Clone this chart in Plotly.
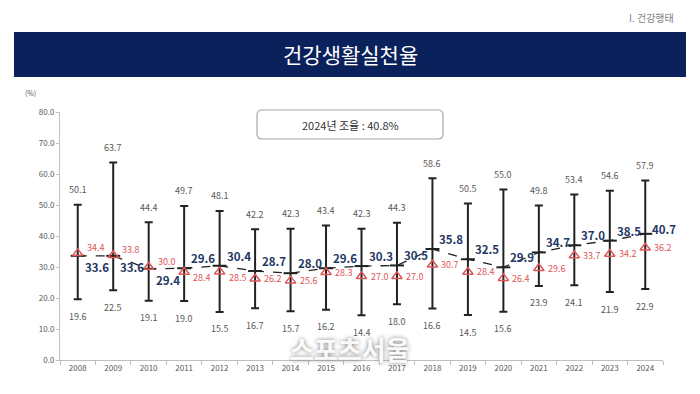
import plotly.graph_objects as go

years = [str(y) for y in range(2008, 2025)]
mean_vals = [33.6, 33.6, 29.4, 29.6, 30.4, 28.7, 28.0, 29.6, 30.3, 30.5, 35.8, 32.5, 29.9, 34.7, 37.0, 38.5, 40.7]
max_vals = [50.1, 63.7, 44.4, 49.7, 48.1, 42.2, 42.3, 43.4, 42.3, 44.3, 58.6, 50.5, 55.0, 49.8, 53.4, 54.6, 57.9]
min_vals = [19.6, 22.5, 19.1, 19.0, 15.5, 16.7, 15.7, 16.2, 14.4, 18.0, 16.6, 14.5, 15.6, 23.9, 24.1, 21.9, 22.9]
crude_vals = [34.4, 33.8, 30.0, 28.4, 28.5, 26.2, 25.6, 28.3, 27.0, 27.0, 30.7, 28.4, 26.4, 29.6, 33.7, 34.2, 36.2]
y_ticks = [0, 10, 20, 30, 40, 50, 60, 70, 80]

FONT = "Noto Sans CJK KR"
NAVY = "#0b215c"
BLUE_TXT = "#1f3864"
RED = "#e05555"
GRAY_TXT = "#595959"

fig = go.Figure()

# range bars with caps
fig.add_trace(go.Scatter(
    x=years, y=mean_vals, mode="markers",
    marker=dict(symbol="line-ew", size=10, line=dict(width=2, color="#222222"), color="#222222"),
    error_y=dict(type="data", symmetric=False,
                 array=[mx - m for mx, m in zip(max_vals, mean_vals)],
                 arrayminus=[m - mn for mn, m in zip(min_vals, mean_vals)],
                 color="#222222", thickness=2, width=4),
    showlegend=False, hoverinfo="skip"))

# dashed line through means
fig.add_trace(go.Scatter(
    x=years, y=mean_vals, mode="lines",
    line=dict(color="#222222", width=1.3, dash="dash"),
    showlegend=False, hoverinfo="skip"))

# crude rate triangles
fig.add_trace(go.Scatter(
    x=years, y=crude_vals, mode="markers",
    marker=dict(symbol="triangle-up-open", size=9, color=RED, line=dict(width=1.5, color=RED)),
    showlegend=False, hoverinfo="skip"))

ann = []
for i, yr in enumerate(years):
    # max labels
    ann.append(dict(x=i, y=max_vals[i], text=f"{max_vals[i]:.1f}", showarrow=False,
                    xanchor="center", yanchor="middle", yshift=15,
                    font=dict(family=FONT, size=9, color=GRAY_TXT)))
    # min labels
    ann.append(dict(x=i, y=min_vals[i], text=f"{min_vals[i]:.1f}", showarrow=False,
                    xanchor="center", yanchor="middle", yshift=-17,
                    font=dict(family=FONT, size=9, color=GRAY_TXT)))
    # mean labels
    if i < 3:
        ys = -11
    elif i == len(years) - 1:
        ys = 5
    else:
        ys = 10
    ann.append(dict(x=i, y=mean_vals[i], text=f"<b>{mean_vals[i]:.1f}</b>", showarrow=False,
                    xanchor="left", yanchor="middle", xshift=5, yshift=ys,
                    font=dict(family=FONT, size=11.5, color=BLUE_TXT)))
    # crude labels
    if i < 3:
        ys2 = 6
    elif i < 5:
        ys2 = -6
    else:
        ys2 = 0
    ann.append(dict(x=i, y=crude_vals[i], text=f"{crude_vals[i]:.1f}", showarrow=False,
                    xanchor="left", yanchor="middle", xshift=7, yshift=ys2,
                    font=dict(family=FONT, size=9, color=RED)))


def px_x(p):
    return (p - 60) / 603


def px_y(p):
    return (360 - p) / 248


# header texts
ann.append(dict(xref="paper", yref="paper", x=px_x(350), y=px_y(54),
                xanchor="center", yanchor="middle",
                text="건강생활실천율", showarrow=False,
                font=dict(family=FONT, size=21, color="white")))
ann.append(dict(xref="paper", yref="paper", x=px_x(676), y=px_y(18),
                xanchor="right", yanchor="middle", text="I. 건강행태", showarrow=False,
                font=dict(family=FONT, size=10, color="#7f7f7f")))
ann.append(dict(xref="paper", yref="paper", x=px_x(350), y=px_y(124.5),
                xanchor="center", yanchor="middle",
                text="2024년 조율 : 40.8%", showarrow=False,
                font=dict(family=FONT, size=11, color="#333333")))
ann.append(dict(xref="paper", yref="paper", x=px_x(30), y=px_y(93),
                xanchor="center", yanchor="middle",
                text="(%)", showarrow=False,
                font=dict(family=FONT, size=7, color=GRAY_TXT)))
# watermark
ann.append(dict(xref="paper", yref="paper", x=px_x(350), y=px_y(348),
                xanchor="center", yanchor="middle",
                text="<b>스포츠서울</b>", showarrow=False,
                font=dict(family=FONT, size=26, color="rgba(255,255,255,0.95)",
                          shadow="0px 0px 4px #777")))

x0, x1, y0, y1 = px_x(257), px_x(443), px_y(139), px_y(110)
rx, ry = 5 / 603, 5 / 248
box_path = (f"M {x0+rx},{y0} L {x1-rx},{y0} Q {x1},{y0} {x1},{y0+ry} "
            f"L {x1},{y1-ry} Q {x1},{y1} {x1-rx},{y1} L {x0+rx},{y1} "
            f"Q {x0},{y1} {x0},{y1-ry} L {x0},{y0+ry} Q {x0},{y0} {x0+rx},{y0} Z")

shapes = [
    dict(type="rect", xref="paper", yref="paper", x0=px_x(14), x1=px_x(686),
         y0=px_y(77), y1=px_y(32), fillcolor=NAVY, line=dict(width=0), layer="below"),
    dict(type="path", xref="paper", yref="paper", path=box_path,
         line=dict(color="#a6a6a6", width=1.2), fillcolor="rgba(0,0,0,0)"),
]

# page body has an 8px margin, so the figure is offset by 8px
fig.update_layout(
    width=692, height=386,
    margin=dict(l=52, r=37, t=104, b=34),
    paper_bgcolor="white", plot_bgcolor="white",
    showlegend=False,
    annotations=ann, shapes=shapes,
    xaxis=dict(type="category", tickson="boundaries", ticks="outside", ticklen=4,
               tickcolor="#bfbfbf", showline=True, linecolor="#bfbfbf", linewidth=1,
               showgrid=False, tickfont=dict(family=FONT, size=8, color=GRAY_TXT),
               range=[-0.5, 16.5], fixedrange=True),
    yaxis=dict(range=[0, 80], tickvals=y_ticks, tickformat=".1f", ticks="outside",
               ticklen=3, tickcolor="#bfbfbf", showline=True, linecolor="#bfbfbf",
               linewidth=1, showgrid=False, zeroline=False,
               tickfont=dict(family=FONT, size=8, color=GRAY_TXT), fixedrange=True),
)

fig.write_html("out.html")
